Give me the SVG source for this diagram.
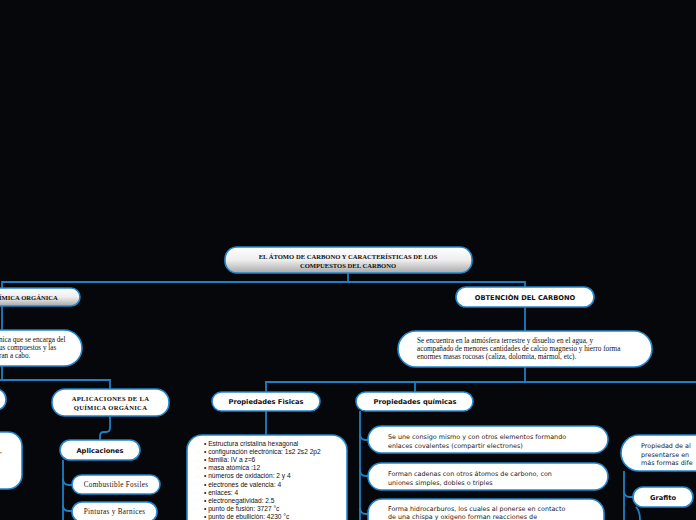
<svg xmlns="http://www.w3.org/2000/svg" width="696" height="520" viewBox="0 0 696 520">
<defs>
<linearGradient id="g" x1="0" y1="0" x2="0" y2="1">
<stop offset="0" stop-color="#ffffff"/>
<stop offset="0.5" stop-color="#eeeeee"/>
<stop offset="1" stop-color="#a9a9a9"/>
</linearGradient>
</defs>
<style>
.n{fill:#ffffff;stroke:#2487cc;stroke-width:1.6}
.gr{fill:url(#g);stroke:#2487cc;stroke-width:1.6}
.c{fill:none;stroke:#1f7fc2;stroke-width:1.8}
.sb{font-family:"Liberation Serif",serif;font-weight:bold;fill:#111;font-size:6.6px}
.sr{font-family:"Liberation Serif",serif;fill:#111;font-size:7.2px}
.hb{font-family:"DejaVu Sans",sans-serif;font-weight:bold;fill:#111;font-size:6.7px}
.t{font-family:"DejaVu Sans",sans-serif;fill:#222;font-size:6.4px}
.b{font-family:"Liberation Sans",Arial,sans-serif;fill:#111;font-size:6.6px}
</style>
<rect x="0" y="0" width="696" height="520" fill="#05070a"/>

<g id="connectors">
<path class="c" d="M348,273 V282"/>
<path class="c" d="M2,288 V282 H525 V288"/>
<path class="c" d="M2,306 V330"/>
<path class="c" d="M2,366 V380"/>
<path class="c" d="M0,380 H110 V389"/>
<path class="c" d="M110,416 V428 Q110,432 106,432 H104 Q100,432 100,436 V440"/>
<path class="c" d="M63,460 V520"/>
<path class="c" d="M63,479 Q63,485 69,485 H72"/>
<path class="c" d="M63,505 Q63,511 69,511 H72"/>
<path class="c" d="M525,307 V331"/>
<path class="c" d="M525,367 V382"/>
<path class="c" d="M266,392 V382 H696"/>
<path class="c" d="M415,382 V392"/>
<path class="c" d="M266,411 V435"/>
<path class="c" d="M360,411 V520"/>
<path class="c" d="M360,434 Q360,440 366,440 H368"/>
<path class="c" d="M360,470 Q360,476 366,476 H368"/>
<path class="c" d="M360,508 Q360,514 366,514 H368"/>
<path class="c" d="M624,471 V520"/>
<path class="c" d="M624,491 Q624,497 630,497 H633"/>
<path class="c" d="M636,507 Q640,511 640,520"/>
</g>

<g id="root">
<rect class="gr" x="225" y="247" width="247" height="26" rx="12"/>
<text class="sb" x="348" y="259" text-anchor="middle" font-size="7px">EL ÁTOMO DE CARBONO Y CARACTERÍSTICAS DE LOS</text>
<text class="sb" x="348" y="267.5" text-anchor="middle" font-size="7px">COMPUESTOS DEL CARBONO</text>
</g>

<g id="quimica-organica">
<rect class="gr" x="-76" y="288" width="156" height="18" rx="9"/>
<text class="sb" x="-1" y="299.5">ÍMICA ORGÁNICA</text>
</g>

<g id="definicion">
<rect class="n" x="-90" y="330" width="172" height="36" rx="18"/>
<text class="sr" x="-1" y="342">nica que se encarga del</text>
<text class="sr" x="-1" y="350">us compuestos y las</text>
<text class="sr" x="-1" y="358">ran a cabo.</text>
</g>

<g id="left-node-a">
<rect class="n" x="-50" y="389" width="56" height="21" rx="10"/>
</g>

<g id="left-node-b">
<rect class="n" x="-90" y="432" width="112" height="57" rx="14"/>
<text class="sr" x="0" y="453">,</text>
</g>

<g id="aplicaciones-quimica">
<rect class="n" x="52" y="389" width="117" height="27" rx="13"/>
<text class="sb" x="110.5" y="401" text-anchor="middle" letter-spacing="0.3">APLICACIONES DE LA</text>
<text class="sb" x="110.5" y="410" text-anchor="middle" letter-spacing="0.3">QUÍMICA ORGÁNICA</text>
</g>

<g id="aplicaciones">
<rect class="n" x="60" y="440" width="80" height="20" rx="10"/>
<text class="hb" x="100" y="453" text-anchor="middle" font-size="7px">Aplicaciones</text>
</g>

<g id="combustible">
<rect class="n" x="72" y="475" width="88" height="19" rx="9.5"/>
<text class="sr" x="116" y="487" text-anchor="middle" font-size="6.2px" letter-spacing="0.3">Combustible Fosiles</text>
</g>

<g id="pinturas">
<rect class="n" x="72" y="502" width="85" height="20" rx="10"/>
<text class="sr" x="114.5" y="514" text-anchor="middle" font-size="6.2px" letter-spacing="0.3">Pinturas y Barnices</text>
</g>

<g id="obtencion">
<rect class="n" x="456" y="287" width="138" height="20" rx="10"/>
<text class="hb" x="525" y="300" text-anchor="middle">OBTENCIÒN DEL CARBONO</text>
</g>

<g id="obtencion-desc">
<rect class="n" x="398" y="331" width="254" height="36" rx="18"/>
<text class="sr" x="417" y="343">Se encuentra en la atmósfera terrestre y disuelto en el agua, y</text>
<text class="sr" x="417" y="351">acompañado de menores cantidades de calcio magnesio y hierro forma</text>
<text class="sr" x="417" y="359">enormes masas rocosas (caliza, dolomita, mármol, etc).</text>
</g>

<g id="prop-fisicas">
<rect class="n" x="212" y="392" width="108" height="19" rx="9.5"/>
<text class="hb" x="266" y="404" text-anchor="middle">Propiedades Fìsicas</text>
</g>

<g id="prop-fisicas-lista">
<rect class="n" x="187" y="435" width="160" height="100" rx="15"/>
<text class="b" x="204" y="446">• Estructura cristalina hexagonal</text>
<text class="b" x="204" y="454.1">• configuración electrónica: 1s2 2s2 2p2</text>
<text class="b" x="204" y="462.2">• familia: IV a z=6</text>
<text class="b" x="204" y="470.3">• masa atómica :12</text>
<text class="b" x="204" y="478.4">• números de oxidación: 2 y 4</text>
<text class="b" x="204" y="486.5">• electrones de valencia: 4</text>
<text class="b" x="204" y="494.6">• enlaces: 4</text>
<text class="b" x="204" y="502.7">• electronegatividad: 2.5</text>
<text class="b" x="204" y="510.8">• punto de fusión: 3727 °c</text>
<text class="b" x="204" y="518.9">• punto de ebullición: 4230 °c</text>
</g>

<g id="prop-quimicas">
<rect class="n" x="356" y="392" width="117" height="19" rx="9.5"/>
<text class="hb" x="415" y="404" text-anchor="middle">Propiedades químicas</text>
</g>

<g id="quim-1">
<rect class="n" x="368" y="426" width="240" height="27" rx="13.5"/>
<text class="t" x="388" y="439">Se une consigo mismo y con otros elementos formando</text>
<text class="t" x="388" y="447.5">enlaces covalentes (compartir electrones)</text>
</g>

<g id="quim-2">
<rect class="n" x="368" y="463" width="240" height="27" rx="13.5"/>
<text class="t" x="388" y="475.5">Forman cadenas con otros átomos de carbono, con</text>
<text class="t" x="388" y="484.5">uniones simples, dobles o triples</text>
</g>

<g id="quim-3">
<rect class="n" x="368" y="499" width="236" height="40" rx="14"/>
<text class="t" x="388" y="511">Forma hidrocarburos, los cuales al ponerse en contacto</text>
<text class="t" x="388" y="519">de una chispa y oxigeno forman reacciones de</text>
</g>

<g id="alotropia">
<rect class="n" x="621" y="435" width="110" height="36" rx="18"/>
<text class="t" x="641" y="448" font-size="6.8px">Propiedad de al</text>
<text class="t" x="641" y="456.5" font-size="6.8px">presentarse en</text>
<text class="t" x="641" y="465" font-size="6.8px">más formas dife</text>
</g>

<g id="grafito">
<rect class="n" x="633" y="487" width="60" height="20" rx="10"/>
<text class="hb" x="663" y="500" text-anchor="middle">Grafito</text>
</g>
</svg>
